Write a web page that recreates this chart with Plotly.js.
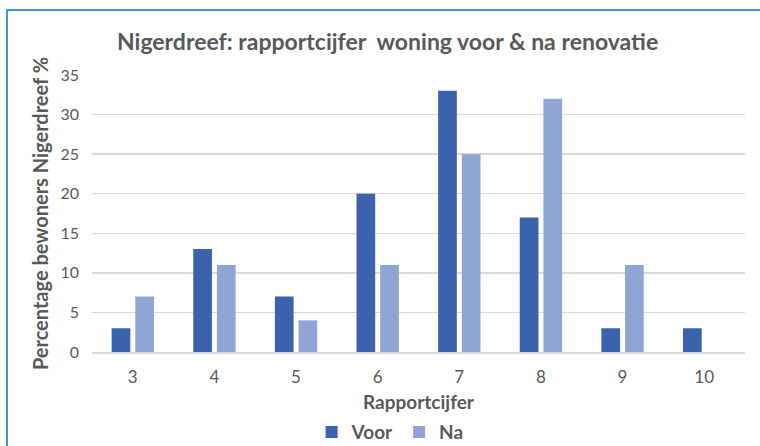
<!DOCTYPE html>
<html>
<head>
<meta charset="utf-8">
<script src="https://cdn.plot.ly/plotly-3.0.1.min.js"></script>
<style>
html,body{margin:0;padding:0;background:#fff;}
#wrap{position:relative;width:760px;height:446px;}
#chart{width:760px;height:446px;}
#frame{position:absolute;left:6px;top:9px;right:0;bottom:0;border-left:2px solid #4a8fd8;border-top:2px solid #4a8fd8;pointer-events:none;}
</style>
</head>
<body>
<div id="wrap"><div id="chart"></div><div id="frame"></div></div>
<script>
const categories = ['3','4','5','6','7','8','9','10'];
const voor = [3, 13, 7, 20, 33, 17, 3, 3];
const na = [7, 11, 4, 11, 25, 32, 11, 0];
const yTicks = [0, 5, 10, 15, 20, 25, 30, 35];

const font = 'Lato, "Open Sans", sans-serif';
const data = [
  {type:'bar', name:'<b>Voor</b>', x:categories, y:voor, marker:{color:'#3a62ad'}},
  {type:'bar', name:'<b>Na</b>', x:categories, y:na, marker:{color:'#8fa5d6'}}
];
const layout = {
  width:760, height:446,
  margin:{l:92, r:15, t:75, b:94},
  paper_bgcolor:'#fff', plot_bgcolor:'#fff',
  barmode:'group', bargap:0.42, bargroupgap:0.21,
  font:{family:font, color:'#595959'},
  title:{text:'<b>Nigerdreef: rapportcijfer  woning voor & na renovatie</b>', font:{size:23, color:'#595959', family:font}, x:0.51, xanchor:'center', y:0.905, yanchor:'middle', automargin:false},
  xaxis:{type:'category', automargin:false, tickfont:{size:17, color:'#595959'}, showline:true, linecolor:'#d9d9d9', linewidth:1.5, ticks:'', showgrid:false, ticklabelstandoff:9,
    title:{text:'<b>Rapportcijfer</b>', font:{size:19, color:'#595959'}, standoff:16}},
  yaxis:{range:[0,35], automargin:false, tickvals:yTicks, tickfont:{size:16, color:'#595959'}, gridcolor:'#d9d9d9', gridwidth:1.5, zeroline:false, ticks:'', ticklabelstandoff:12,
    title:{text:'<b>Percentage bewoners Nigerdreef %</b>', font:{size:20, color:'#595959'}, standoff:6}},
  showlegend:true,
  legend:{orientation:'h', xref:'container', yref:'container', x:0.41, xanchor:'left', y:0.031, yanchor:'middle', font:{size:19, color:'#595959'}, itemwidth:30, traceorder:'normal'}
};
Plotly.newPlot('chart', data, layout, {displayModeBar:false, staticPlot:true});
</script>
</body>
</html>
